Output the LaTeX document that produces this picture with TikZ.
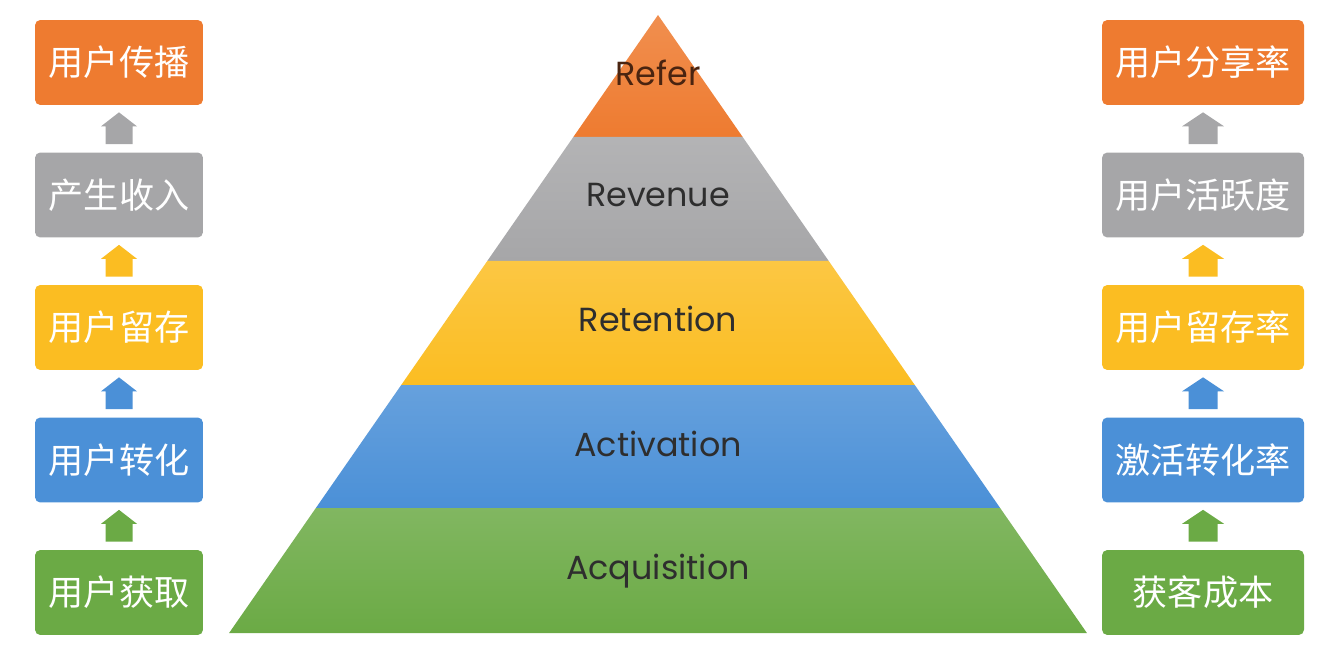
\documentclass[tikz,border=0pt]{standalone}
\usepackage{fontspec}
\setmainfont{Poppins}
\newfontfamily\cjk{Noto Sans CJK SC}
\usetikzlibrary{calc}
\definecolor{cOrange}{HTML}{EE7B30}
\definecolor{cGrey}{HTML}{A6A6A8}
\definecolor{cYellow}{HTML}{FBBD22}
\definecolor{cBlue}{HTML}{4B90D7}
\definecolor{cGreen}{HTML}{6BAA45}
\definecolor{tDark}{HTML}{2E2E2E}
\definecolor{tBrown}{HTML}{4A2410}
\tikzset{
  stage/.style={font=\fontsize{19}{21}\selectfont, anchor=base, inner sep=0pt},
  metric/.style={rounded corners=3pt, minimum height=1.7cm, inner sep=0pt,
    text=white, font=\cjk\fontsize{20}{22}\selectfont},
}
\begin{document}
\begin{tikzpicture}[x=0.02cm, y=-0.02cm]
  \useasboundingbox (0,0) rectangle (1324,658);
  % pyramid bands
  \foreach \c/\t/\b/\y/\tc/\s in{cOrange/15/137/86/tBrown/Refer, cGrey/137/261/207/tDark/Revenue,
      cYellow/261/385/332/tDark/Retention, cBlue/385/508/456/tDark/Activation,
      cGreen/508/633/579/tDark/Acquisition}{
    \path[top color=\c!85!white, bottom color=\c] ({658-0.694*(\t-15)},\t) -- ({658+0.694*(\t-15)},\t)
      -- ({658+0.694*(\b-15)},\b) -- ({658-0.694*(\b-15)},\b) -- cycle;
    \node[stage, text=\tc](P\s) at (658,\y) {\s};
  }
  % metric boxes
  \foreach \i/\c/\l/\r in{1/cOrange/用户传播/用户分享率, 2/cGrey/产生收入/用户活跃度,
      3/cYellow/用户留存/用户留存率, 4/cBlue/用户转化/激活转化率, 5/cGreen/用户获取/获客成本}{
    \node[metric, fill=\c, minimum width=3.36cm](L\i) at (119, {62.5+132.5*(\i-1)}) {\l};
    \node[metric, fill=\c, minimum width=4.04cm](R\i) at (1203, {62.5+132.5*(\i-1)}) {\r};
  }
  % block arrows
  \foreach \u/\d/\c in{1/2/cGrey, 2/3/cYellow, 3/4/cBlue, 4/5/cGreen}{
    \foreach \side/\w/\h in{L/13.5/18, R/14.5/21}{
      \fill[\c] ($(\side\d.north)+(-\w,-8)$) -- ($(\side\u.south)+(-\w,21)$) -- ($(\side\u.south)+(-\h,21)$)
        -- ($(\side\u.south)+(0,7)$) -- ($(\side\u.south)+(\h,21)$) -- ($(\side\u.south)+(\w,21)$)
        -- ($(\side\d.north)+(\w,-8)$) -- cycle;
    }
  }
\end{tikzpicture}
\end{document}
